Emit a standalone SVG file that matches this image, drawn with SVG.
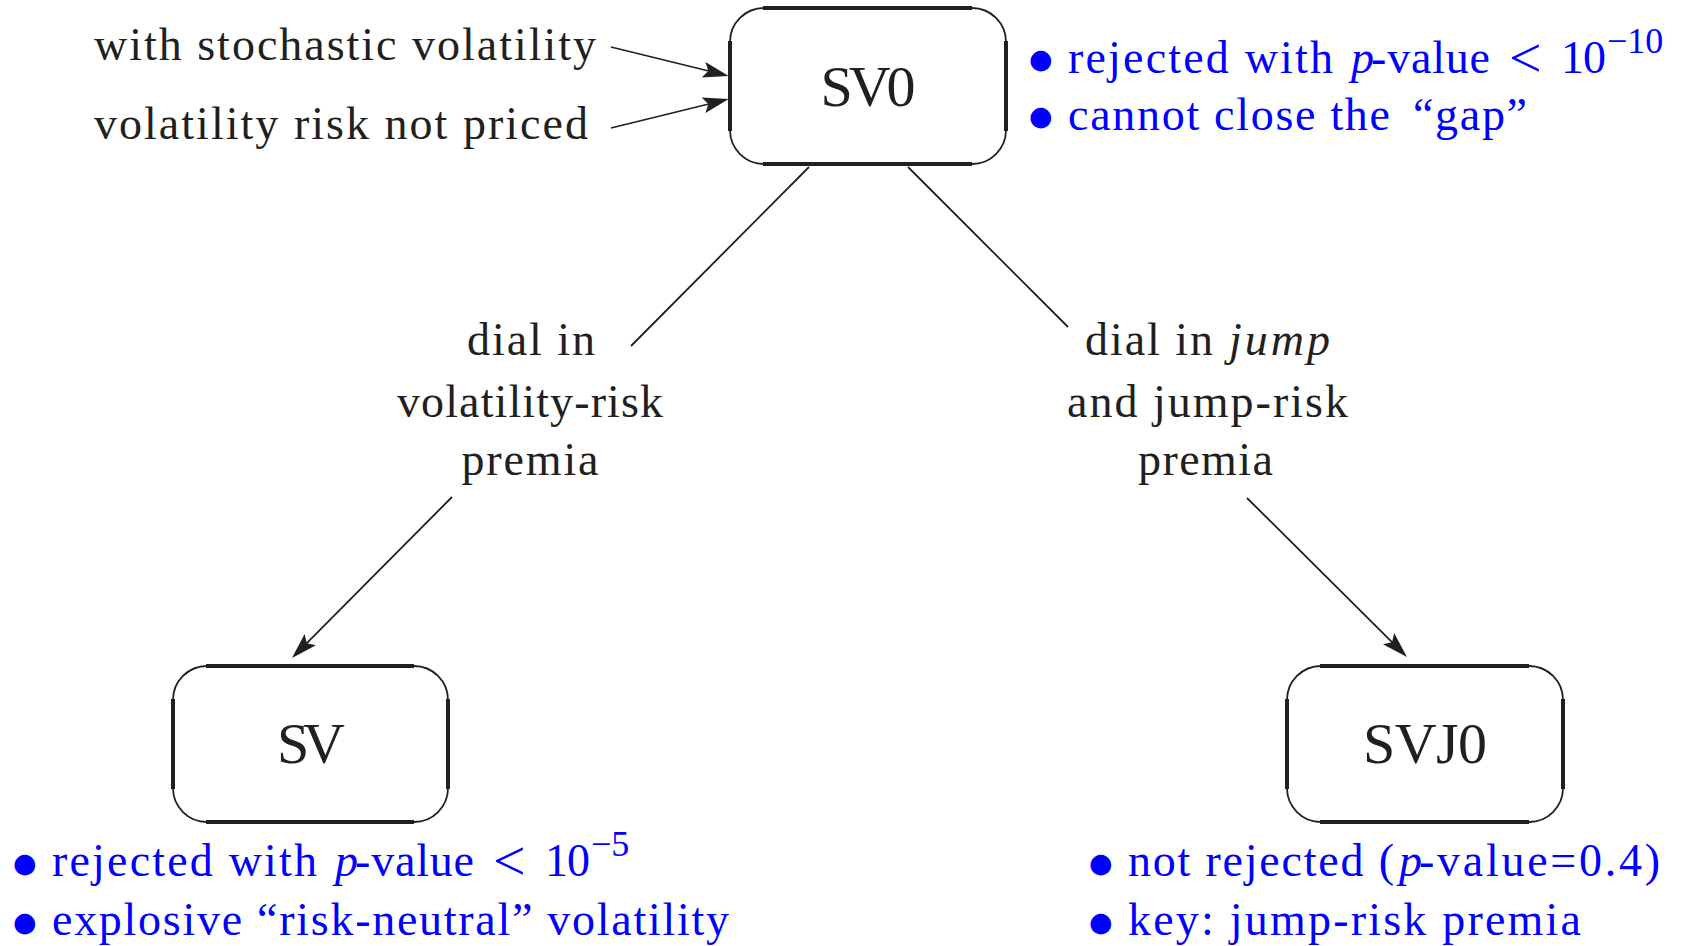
<svg xmlns="http://www.w3.org/2000/svg" width="1692" height="946" viewBox="0 0 1692 946">
  <style>
    text { font-family: "Liberation Serif", "Times New Roman", serif; font-size: 46px; fill: #231f20; }
    .blue { fill: #0000ff; }
    .it { font-style: italic; }
    .node-label { font-size: 58px; text-anchor: middle; }
    .mid { text-anchor: middle; }
    .bul { font-family: "DejaVu Sans", sans-serif; font-size: 27px; }
    .rel { font-size: 58px; }
    .sup { font-size: 36px; }
    .frame { fill: none; stroke: #231f20; stroke-width: 1.8; }
    .edge { fill: none; stroke: #231f20; stroke-width: 4; }
    .conn { fill: none; stroke: #231f20; stroke-width: 1.8; }
    .arrow { marker-end: url(#head); }
  </style>
  <defs>
    <marker id="head" viewBox="-28 -10 30 20" refX="-8" refY="0" markerWidth="30" markerHeight="20" markerUnits="userSpaceOnUse" orient="auto">
      <path d="M0,0 L-26,-8 L-21,0 L-26,8 Z" fill="#231f20"/>
    </marker>
  </defs>

  <rect width="1692" height="946" fill="#ffffff"/>

  <!-- connectors -->
  <g id="connectors">
    <line class="conn arrow" x1="611" y1="47" x2="721" y2="74"/>
    <line class="conn arrow" x1="611" y1="128" x2="721" y2="101"/>
    <line class="conn" x1="809" y1="167" x2="631" y2="346"/>
    <line class="conn arrow" x1="452" y1="497" x2="297.6" y2="652.4"/>
    <line class="conn" x1="908" y1="167" x2="1068" y2="327"/>
    <line class="conn arrow" x1="1247" y1="498" x2="1401.3" y2="651.3"/>
  </g>

  <!-- model SV0 -->
  <g id="node-sv0">
    <rect class="frame" x="730" y="8" width="276" height="156" rx="34" ry="34"/>
    <path class="edge" d="M763,8 H972 M763,164 H972 M730,41 V131 M1006,41 V131"/>
    <text class="node-label" x="868" y="106" textLength="95">SV0</text>
  </g>

  <!-- model SV -->
  <g id="node-sv">
    <rect class="frame" x="173" y="666" width="275" height="156" rx="34" ry="34"/>
    <path class="edge" d="M206,666 H414 M206,822 H414 M173,699 V789 M448,699 V789"/>
    <text class="node-label" x="311" y="763" textLength="68">SV</text>
  </g>

  <!-- model SVJ0 -->
  <g id="node-svj0">
    <rect class="frame" x="1287" y="666" width="276" height="156" rx="34" ry="34"/>
    <path class="edge" d="M1320,666 H1529 M1320,822 H1529 M1287,699 V789 M1563,699 V789"/>
    <text class="node-label" x="1425" y="763" textLength="124">SVJ0</text>
  </g>

  <!-- assumptions feeding SV0 -->
  <g id="assumptions">
    <text x="94" y="60" textLength="502">with stochastic volatility</text>
    <text x="94" y="139" textLength="494">volatility risk not priced</text>
  </g>

  <!-- left branch label -->
  <g id="label-vol-risk">
    <text class="mid" x="531" y="355" textLength="128">dial in</text>
    <text class="mid" x="530" y="417" textLength="266">volatility-risk</text>
    <text class="mid" x="530" y="475" textLength="137">premia</text>
  </g>

  <!-- right branch label -->
  <g id="label-jump-risk">
    <text y="355"><tspan x="1085" textLength="128">dial in</tspan><tspan class="it" x="1229" textLength="101">jump</tspan></text>
    <text x="1067" y="417" textLength="281">and jump-risk</text>
    <text x="1138" y="475" textLength="135">premia</text>
  </g>

  <!-- results for SV0 -->
  <g id="notes-sv0">
    <text class="blue" y="73"><tspan class="bul" x="1029" y="68">●</tspan><tspan x="1068" y="73" textLength="265">rejected with</tspan><tspan class="it" x="1351">p</tspan><tspan x="1371" textLength="119">-value</tspan><tspan class="rel" x="1509" y="77">&lt;</tspan><tspan x="1561" y="73" textLength="45">10</tspan><tspan class="sup" x="1607" y="53">−10</tspan></text>
    <text class="blue" y="130"><tspan class="bul" x="1029" y="125">●</tspan><tspan x="1068" y="130" textLength="322">cannot close the</tspan><tspan x="1413" textLength="114">“gap”</tspan></text>
  </g>

  <!-- results for SV -->
  <g id="notes-sv">
    <text class="blue" y="876"><tspan class="bul" x="13" y="872">●</tspan><tspan x="52" y="876" textLength="265">rejected with</tspan><tspan class="it" x="335">p</tspan><tspan x="355" textLength="119">-value</tspan><tspan class="rel" x="493" y="880">&lt;</tspan><tspan x="545" y="876" textLength="45">10</tspan><tspan class="sup" x="591" y="856">−5</tspan></text>
    <text class="blue" y="935"><tspan class="bul" x="13" y="931">●</tspan><tspan x="52" y="935" textLength="677">explosive “risk-neutral” volatility</tspan></text>
  </g>

  <!-- results for SVJ0 -->
  <g id="notes-svj0">
    <text class="blue" y="876"><tspan class="bul" x="1089" y="872">●</tspan><tspan x="1128" y="876" textLength="266">not rejected (</tspan><tspan class="it" x="1399">p</tspan><tspan x="1419" textLength="241">-value=0.4)</tspan></text>
    <text class="blue" y="935"><tspan class="bul" x="1089" y="931">●</tspan><tspan x="1128" y="935" textLength="453">key: jump-risk premia</tspan></text>
  </g>
</svg>
